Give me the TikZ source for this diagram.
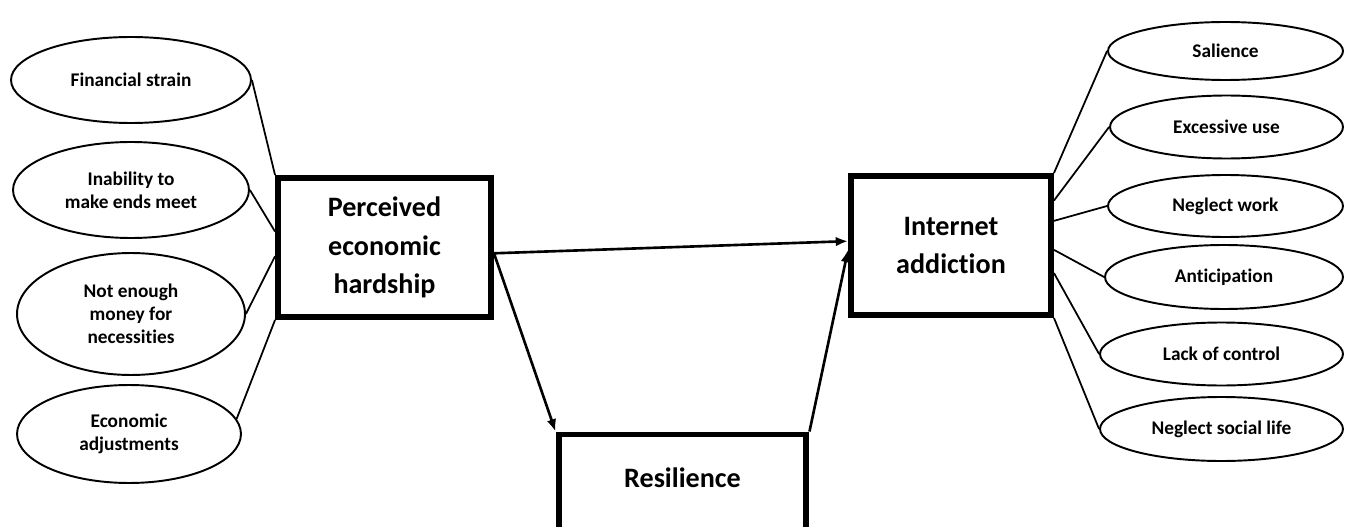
\documentclass[tikz,border=0pt]{standalone}
\usepackage{fontspec}
\setmainfont{Carlito}[Ligatures=NoCommon]
\usetikzlibrary{shapes.geometric,calc,arrows,arrows.meta}
\tikzset{
  indicator/.style={ellipse,draw,line width=1.1pt,inner sep=0pt,align=center,font=\fontsize{11}{13}\selectfont\bfseries},
  construct/.style={rectangle,draw,line width=3.4pt,inner sep=0pt,align=center,font=\fontsize{16}{21.8}\selectfont\bfseries},
  link/.style={line width=1pt},
  effect/.style={line width=1.5pt,->}
}

\begin{document}
\begin{tikzpicture}[x=0.02cm,y=-0.02cm,>={Latex[length=7pt,width=5.5pt]}]
   \useasboundingbox (0,0) rectangle (1346,527);
   \clip (0,0) rectangle (1346,527);
   \node[construct,minimum width=4.26cm,minimum height=2.78cm] (ph) at (384.5,247.5) {Perceived\\economic\\hardship};
   \node[construct,minimum width=4cm,minimum height=2.78cm] (ia) at (951,245.5) {Internet\\addiction};
   \node[construct,minimum width=4.96cm,minimum height=2.1cm,text depth=11pt] (res) at (682.5,487) {Resilience};
   \node[indicator,minimum width=4.8cm,minimum height=1.72cm] (fs) at (131,80) {Financial strain};
   \node[indicator,minimum width=4.72cm,minimum height=1.92cm] (ie) at (131,190) {Inability to\\make ends meet};
   \node[indicator,minimum width=4.56cm,minimum height=2.44cm] (nm) at (131,314) {Not enough\\money for\\necessities};
   \node[indicator,minimum width=4.48cm,minimum height=1.96cm] (ea) at (129,434) {Economic\\adjustments};
   \node[indicator,minimum width=4.7cm,minimum height=1.16cm] (sal) at (1225.5,51) {Salience};
   \node[indicator,minimum width=4.66cm,minimum height=1.26cm] (exc) at (1226.5,127) {Excessive use};
   \node[indicator,minimum width=4.7cm,minimum height=1.24cm] (nw) at (1225.5,206) {Neglect work};
   \node[indicator,minimum width=4.76cm,minimum height=1.28cm] (ant) at (1224,277) {Anticipation};
   \node[indicator,minimum width=4.86cm,minimum height=1.26cm] (lc) at (1221.5,354) {Lack of control};
   \node[indicator,minimum width=4.86cm,minimum height=1.28cm] (ns) at (1221.5,429) {Neglect social life};
   \draw[link] (fs.east) -- (ph.north west);
   \draw[link] (ie.east) -- ($(ph.north west)!.39!(ph.south west)$);
   \draw[link] (nm.east) -- ($(ph.north west)!.56!(ph.south west)$);
   \draw[link] (ea.8) -- (ph.south west);
   \draw[link] (ia.north east) -- (sal.west);
   \draw[link] ($(ia.north east)!.19!(ia.south east)$) -- (exc.west);
   \draw[link] ($(ia.north east)!.33!(ia.south east)$) -- (nw.west);
   \draw[link] ($(ia.north east)!.53!(ia.south east)$) -- (ant.west);
   \draw[link] ($(ia.north east)!.69!(ia.south east)$) -- (lc.west);
   \draw[link] (ia.south east) -- (ns.west);
   \draw[effect] ($(ph.north east)!.54!(ph.south east)$) -- ($(ia.north west)!.47!(ia.south west)$);
   \draw[effect] ($(ph.north east)!.54!(ph.south east)$) -- (res.north west);
   \draw[effect] (res.north east) -- ($(ia.north west)!.53!(ia.south west)$);
\end{tikzpicture}
\end{document}
